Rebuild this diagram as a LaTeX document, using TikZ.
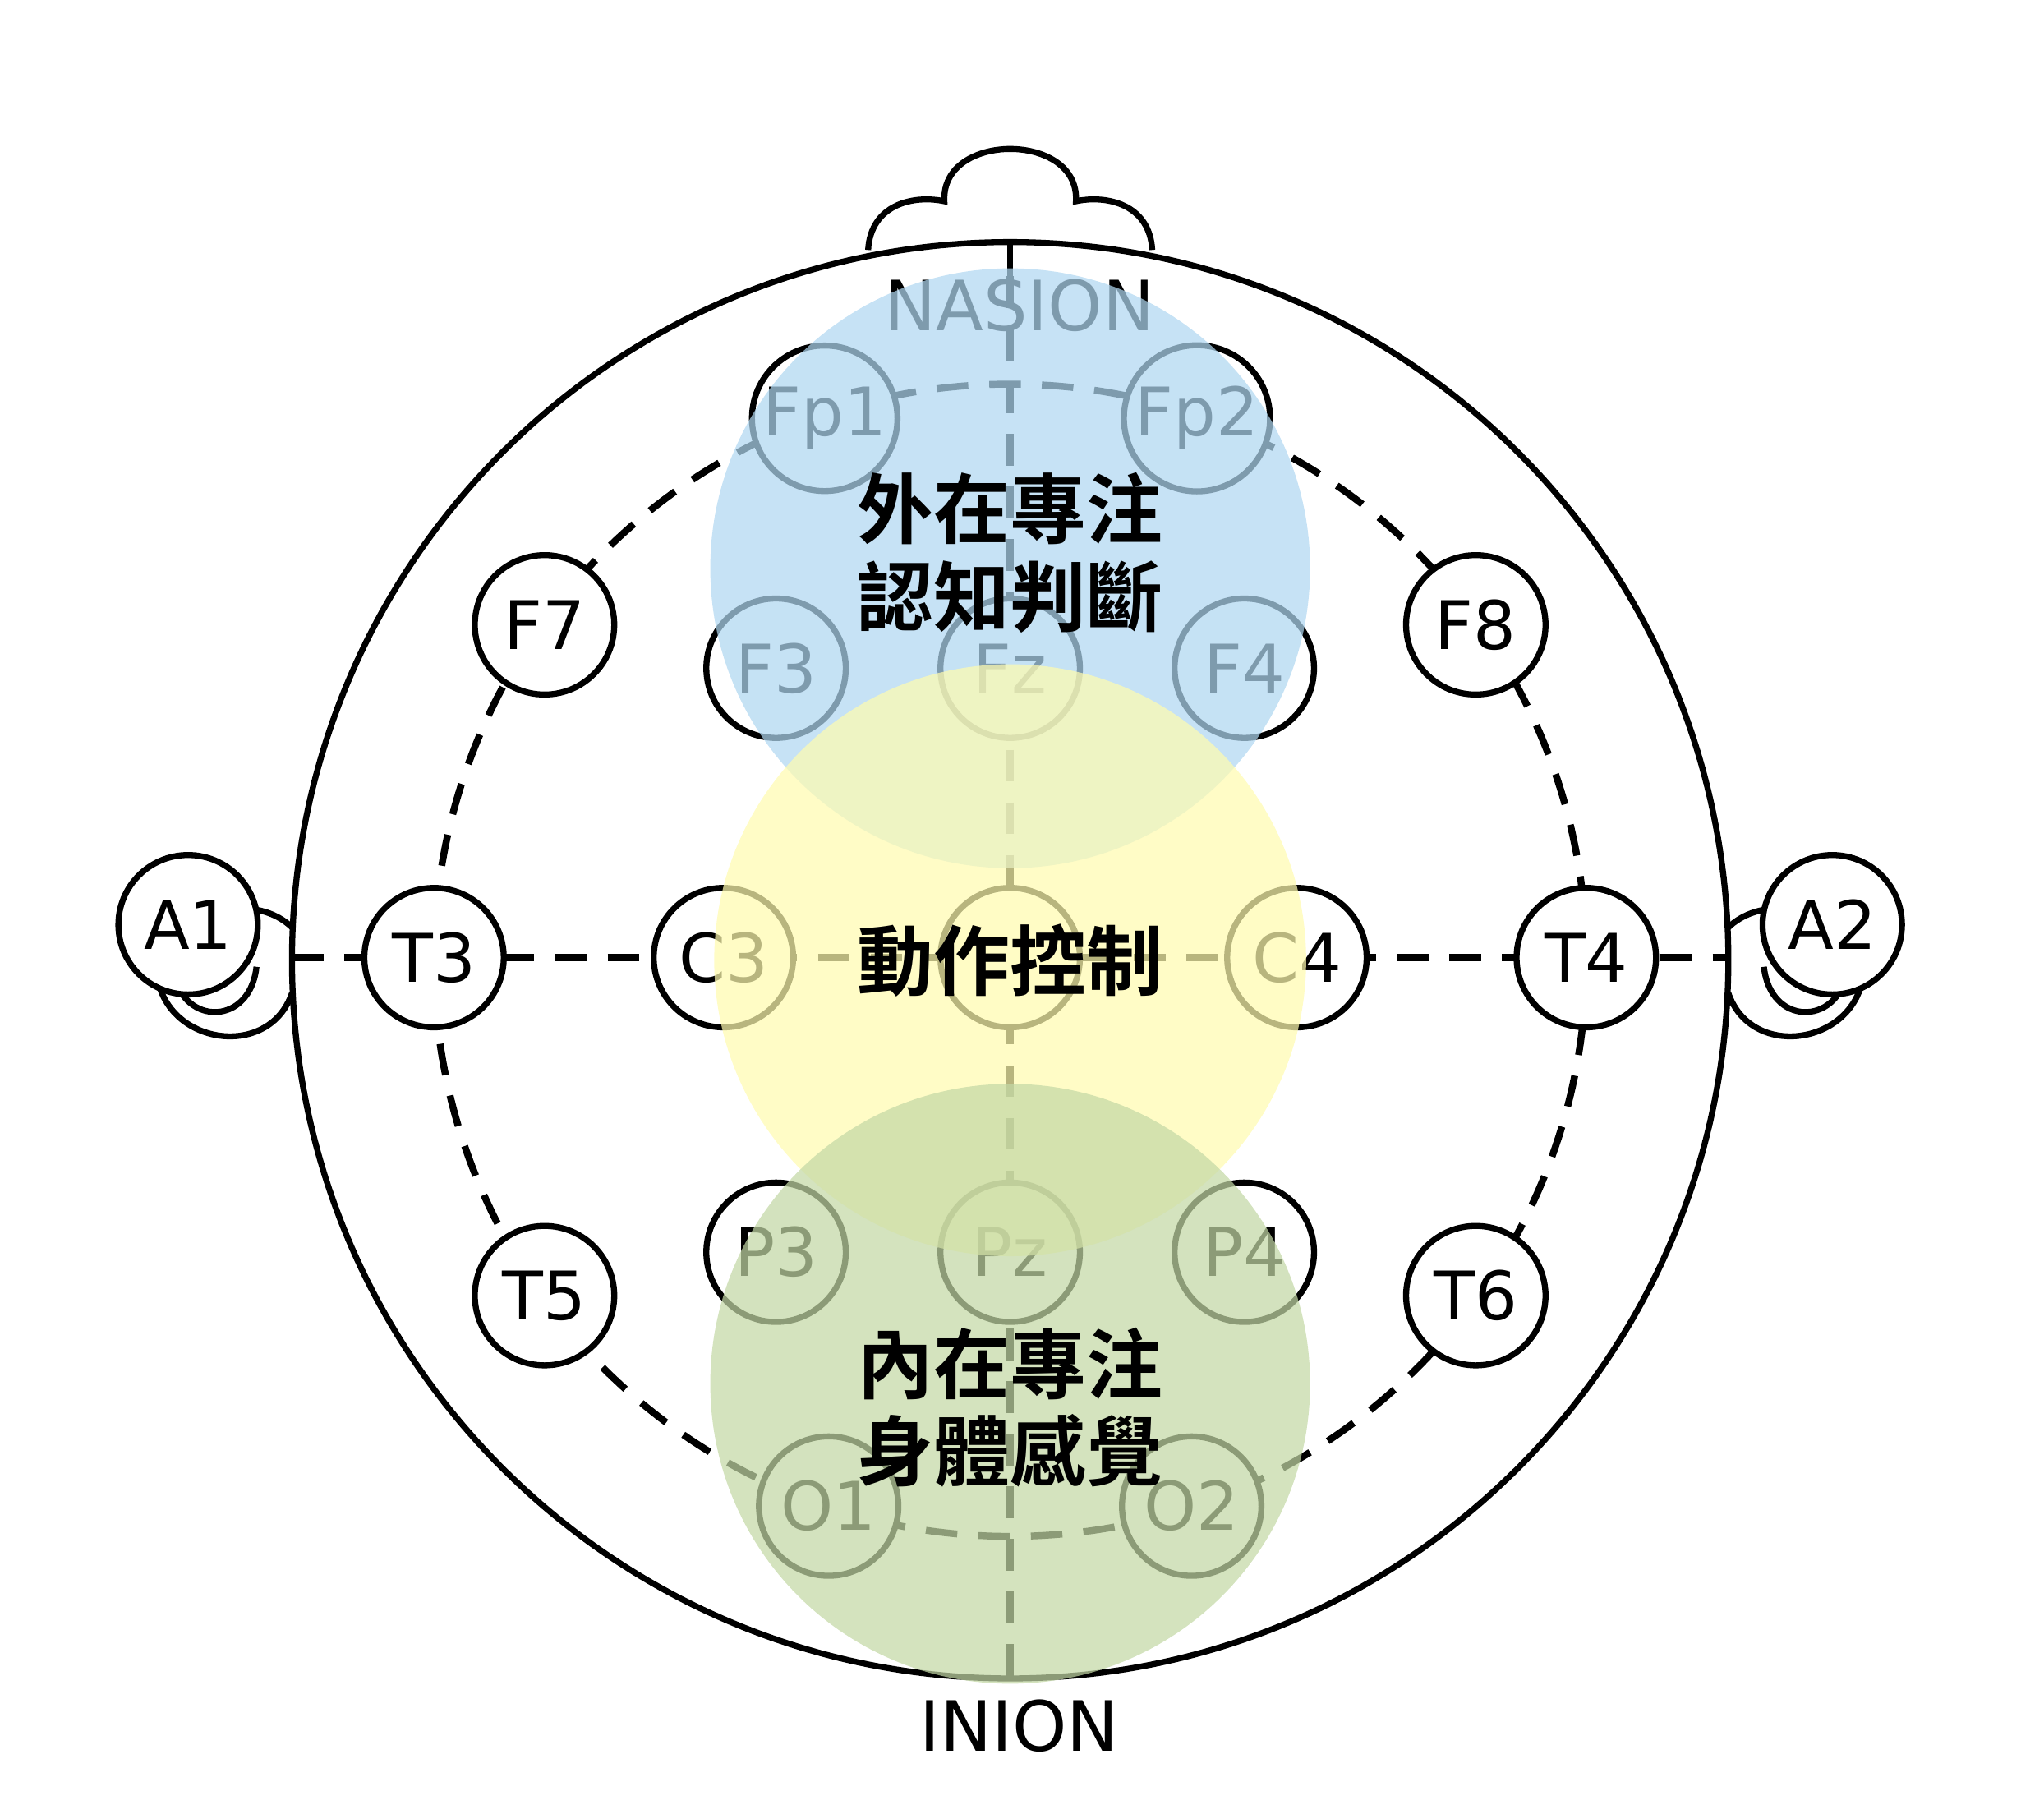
\documentclass[tikz,border=0pt]{standalone}
\usepackage{fontspec}
\setmainfont{DejaVu Sans}
\newfontfamily\cjk{Noto Sans CJK TC Bold}
\definecolor{frontblue}{RGB}{176,215,241}
\definecolor{motoryellow}{RGB}{255,251,176}
\definecolor{backgreen}{RGB}{195,216,165}
\tikzset{el/.append style={minimum size=1.06cm, draw, circle, fill=white, inner sep=0.02cm, line width=1.3pt, font=\fontsize{14.5}{14.5}\selectfont}}
\tikzset{zone/.append style={fill opacity=0.72}}
\tikzset{guide/.append style={line width=1.5pt, dash pattern=on 0.24cm off 0.16cm}}
\tikzset{lab/.append style={font=\cjk\fontsize{16.5}{19}\selectfont, align=center, inner sep=0}}

\begin{document}
\begin{tikzpicture}[line width=1.3pt]
                \useasboundingbox (0,0) rectangle (15.54,-13.79);
                % head, nose, ears
                \coordinate (ctr) at (7.68,-7.30);
                \draw (ctr) circle (5.46);
                \draw (6.60,-1.90) .. controls (6.62,-1.55) and (6.95,-1.48) .. (7.18,-1.53)
                      .. controls (7.15,-1.00) and (8.21,-1.00) .. (8.18,-1.53)
                      .. controls (8.41,-1.48) and (8.74,-1.55) .. (8.76,-1.90);
                \draw (7.68,-1.84) -- (7.68,-2.10);
                \draw (2.22,-7.05) .. controls (1.85,-6.70) and (1.10,-7.05) .. (1.20,-7.45)
                      .. controls (1.30,-7.95) and (2.05,-8.05) .. (2.22,-7.55);
                \draw (1.32,-7.40) .. controls (1.40,-7.80) and (1.90,-7.80) .. (1.95,-7.35);
                \draw (13.14,-7.05) .. controls (13.51,-6.70) and (14.26,-7.05) .. (14.16,-7.45)
                      .. controls (14.06,-7.95) and (13.31,-8.05) .. (13.14,-7.55);
                \draw (14.04,-7.40) .. controls (13.96,-7.80) and (13.46,-7.80) .. (13.41,-7.35);
                % guide lines
                \draw[guide] (ctr) circle (4.38);
                \draw[guide] (7.68,-2.10) -- (7.68,-12.77);
                \draw[guide] (2.22,-7.28) -- (13.14,-7.28);
                % electrodes
                \node[el] (a1) at (1.43,-7.03) {A1};
                \node[el] (a2) at (13.93,-7.03) {A2};
                \node[el] (fp1) at (6.27,-3.18) {Fp1};
                \node[el] (fp2) at (9.10,-3.18) {Fp2};
                \node[el] (f7) at (4.14,-4.75) {F7};
                \node[el] (f3) at (5.90,-5.08) {F3};
                \node[el] (fz) at (7.68,-5.08) {Fz};
                \node[el] (f4) at (9.46,-5.08) {F4};
                \node[el] (f8) at (11.22,-4.75) {F8};
                \node[el] (t3) at (3.30,-7.28) {T3};
                \node[el] (c3) at (5.50,-7.28) {C3};
                \node[el] (cz) at (7.68,-7.28) {};
                \node[el] (c4) at (9.86,-7.28) {C4};
                \node[el] (t4) at (12.06,-7.28) {T4};
                \node[el] (t5) at (4.14,-9.85) {T5};
                \node[el] (p3) at (5.90,-9.52) {P3};
                \node[el] (pz) at (7.68,-9.52) {Pz};
                \node[el] (p4) at (9.46,-9.52) {P4};
                \node[el] (t6) at (11.22,-9.85) {T6};
                \node[el] (o1) at (6.30,-11.45) {O1};
                \node[el] (o2) at (9.06,-11.45) {O2};
                \node[font=\fontsize{15}{15}\selectfont] (nasion) at (7.75,-2.32) {NASION};
                \node[font=\fontsize{15}{15}\selectfont] (inion) at (7.75,-13.12) {INION};
                % zones
                \fill[zone, frontblue] (7.68,-4.32) circle (2.28);
                \fill[zone, motoryellow] (7.68,-7.30) circle (2.25);
                \fill[zone, backgreen] (7.68,-10.52) circle (2.28);
                \node[lab] (front) at (7.68,-4.20) {外在專注\\認知判斷};
                \node[lab] (motor) at (7.68,-7.30) {動作控制};
                \node[lab] (back) at (7.68,-10.70) {內在專注\\身體感覺};
            \end{tikzpicture}
\end{document}
